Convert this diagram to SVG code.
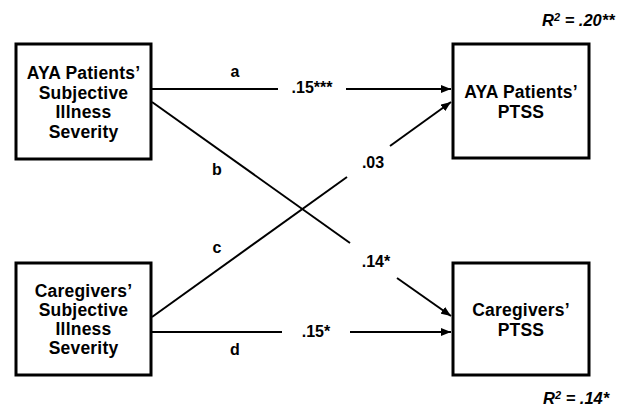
<svg xmlns="http://www.w3.org/2000/svg" width="618" height="412" viewBox="0 0 618 412">
<defs>
<marker id="arr" viewBox="0 0 10 8" refX="10" refY="4" markerWidth="10" markerHeight="8" markerUnits="userSpaceOnUse" orient="auto">
<path d="M0,0 L10,4 L0,8 Z" fill="#000"/>
</marker>
<style>
.box{fill:#fff;stroke:#000;stroke-width:3}
.t{font-family:"Liberation Sans",Arial,sans-serif;font-weight:bold;font-size:17.5px;letter-spacing:0.2px;fill:#000;text-anchor:middle}
.l{font-family:"Liberation Sans",Arial,sans-serif;font-weight:bold;font-size:16px;fill:#000;text-anchor:middle}
.r{font-family:"Liberation Sans",Arial,sans-serif;font-weight:bold;font-style:italic;font-size:16.5px;fill:#000}
.ln{stroke:#000;stroke-width:2;fill:none}
</style>
</defs>
<rect width="618" height="412" fill="#fff"/>
<g id="connectors">
<line class="ln" x1="152" y1="89" x2="278" y2="89"/>
<line class="ln" x1="346" y1="89" x2="451" y2="89" marker-end="url(#arr)"/>
<line class="ln" x1="152" y1="102" x2="350" y2="243"/>
<line class="ln" x1="397" y1="278" x2="451" y2="316" marker-end="url(#arr)"/>
<line class="ln" x1="152" y1="317" x2="347" y2="177"/>
<line class="ln" x1="390" y1="146" x2="451" y2="102" marker-end="url(#arr)"/>
<line class="ln" x1="152" y1="332" x2="282" y2="332"/>
<line class="ln" x1="350" y1="332" x2="451" y2="332" marker-end="url(#arr)"/>
<text class="l" x="235" y="77">a</text>
<text class="l" x="312" y="93">.15***</text>
<text class="l" x="217" y="175">b</text>
<text class="l" x="373" y="168">.03</text>
<text class="l" x="217" y="253">c</text>
<text class="l" x="376" y="267">.14*</text>
<text class="l" x="235" y="355">d</text>
<text class="l" x="316" y="337">.15*</text>
</g>
<g id="aya_illness">
<rect class="box" x="16" y="44" width="135" height="115"/>
<text class="t" x="83.5" y="79">AYA Patients’</text>
<text class="t" x="83.5" y="99">Subjective</text>
<text class="t" x="83.5" y="118">Illness</text>
<text class="t" x="83.5" y="138">Severity</text>
</g>
<g id="aya_ptss">
<rect class="box" x="453" y="44" width="136" height="114"/>
<text class="t" x="521" y="98">AYA Patients’</text>
<text class="t" x="521" y="118">PTSS</text>
<text class="r" x="542" y="26">R<tspan font-size="11" dy="-5">2</tspan><tspan dy="5"> = .20**</tspan></text>
</g>
<g id="cg_illness">
<rect class="box" x="16" y="263" width="135" height="112"/>
<text class="t" x="83.5" y="297">Caregivers’</text>
<text class="t" x="83.5" y="316">Subjective</text>
<text class="t" x="83.5" y="335">Illness</text>
<text class="t" x="83.5" y="354">Severity</text>
</g>
<g id="cg_ptss">
<rect class="box" x="453" y="263" width="136" height="112"/>
<text class="t" x="521" y="316">Caregivers’</text>
<text class="t" x="521" y="336">PTSS</text>
<text class="r" x="543" y="404">R<tspan font-size="11" dy="-5">2</tspan><tspan dy="5"> = .14*</tspan></text>
</g>
</svg>
